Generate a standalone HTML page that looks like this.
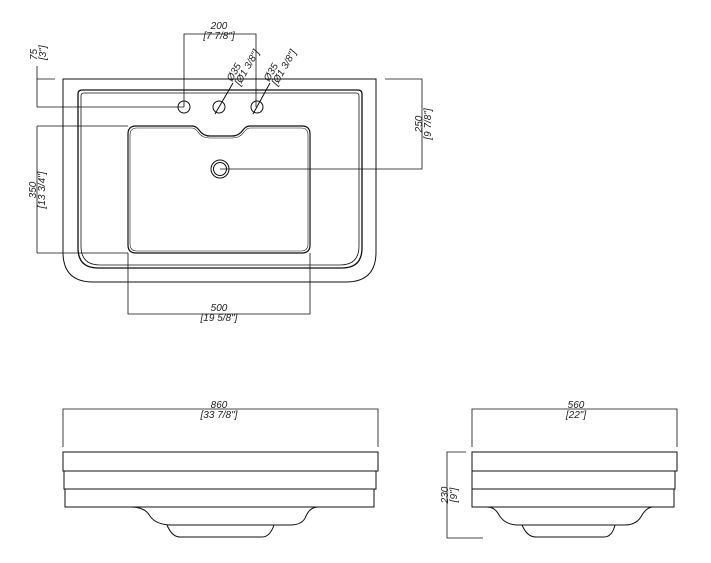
<!DOCTYPE html>
<html><head><style>
html,body{margin:0;padding:0;background:#fff;}
svg{display:block;}
text{font-family:"Liberation Sans",sans-serif;font-style:italic;font-size:10px;fill:#222;}
</style></head><body>
<svg width="711" height="563" viewBox="0 0 711 563" xmlns="http://www.w3.org/2000/svg">
<g fill="none" stroke="#111" stroke-width="1">
<!-- plan: outer -->
<path d="M63,79 H376 V252 Q376,282 346,282 H93 Q63,282 63,252 Z"/>
<!-- rim double -->
<path d="M78,94 Q78,90 82,90 H358 Q362,90 362,94 V248 Q362,268 342,268 H98 Q78,268 78,248 Z" stroke-width="1.3"/>
<path d="M81,96 Q81,93 84,93 H356 Q359,93 359,96 V246 Q359,265 340,265 H100 Q81,265 81,246 Z" stroke-width="0.8"/>
<!-- bowl -->
<path d="M136,126 H192 Q196,126 199,130 Q203,136 210,136 H232 Q239,136 243,130 Q246,126 250,126 H302 Q310,126 310,134 V245 Q310,253 302,253 H136 Q128,253 128,245 V134 Q128,126 136,126 Z" stroke-width="1.2"/>
<path d="M137,128 H192 Q195,128 198,132 Q202,138 210,138 H232 Q240,138 244,132 Q247,128 250,128 H301 Q308,128 308,135 V244 Q308,251 301,251 H137 Q130,251 130,244 V135 Q130,128 137,128 Z" stroke-width="0.6"/>
<!-- holes -->
<circle cx="184" cy="107" r="6"/>
<circle cx="219" cy="107" r="6"/>
<circle cx="257" cy="107" r="6"/>
<line x1="215" y1="114" x2="233" y2="83"/>
<line x1="253" y1="114" x2="270" y2="83"/>
<!-- drain -->
<circle cx="220" cy="169" r="9"/>
<circle cx="220" cy="169" r="6.5"/>
<!-- dims -->
<g stroke-width="0.8">
<path d="M184,107 V34 H256 V107"/>
<path d="M37,66 V107 M37,79 H55 M37,107 H184"/>
<path d="M37,126 V253 M37,126 H128 M37,253 H128"/>
<path d="M385,79 H422 V169 H220"/>
<path d="M128,253 V314 H310 V253"/>
</g>
<!-- front view -->
<path d="M63,452 H378 V471 H63 Z"/>
<path d="M64,471 V489 H376 V471"/>
<path d="M65,489 V507 H374 V489"/>
<path d="M131,507 Q145,507 150,516 Q156,525 172,525 H290 Q303,525 306,516 Q310,507 318,507"/>
<path d="M167,525 Q172,537 180,537 H262 Q270,537 274,525"/>
<path d="M63,447 V409 H378 V447" stroke-width="0.8"/>
<!-- side view -->
<path d="M472,452 H677 V471 H472 Z"/>
<path d="M472,471 V489 H675 V471"/>
<path d="M472,489 V507 H674 V489"/>
<path d="M487,507 Q495,507 499,515 Q505,525 518,525 H625 Q637,525 642,515 Q647,507 653,507"/>
<path d="M522,525 Q527,537 536,537 H604 Q612,537 615,525"/>
<path d="M472,447 V409 H677 V447" stroke-width="0.8"/>
<path d="M466,452 H447 V538 H483" stroke-width="0.8"/>
</g>
<g>
<text x="219" y="29" text-anchor="middle">200</text>
<text x="219" y="39" text-anchor="middle">[7 7/8"]</text>
<text transform="translate(37,60) rotate(-90)" text-anchor="start">75</text>
<text transform="translate(46,60) rotate(-90)" text-anchor="start">[3"]</text>
<text transform="translate(36,190) rotate(-90)" text-anchor="middle">350</text>
<text transform="translate(45,190) rotate(-90)" text-anchor="middle">[13 3/4"]</text>
<text transform="translate(422,124) rotate(-90)" text-anchor="middle">250</text>
<text transform="translate(431,124) rotate(-90)" text-anchor="middle">[9 7/8"]</text>
<text x="219" y="311" text-anchor="middle">500</text>
<text x="219" y="321" text-anchor="middle">[19 5/8"]</text>
<text transform="translate(232,82) rotate(-60)">Ø35</text>
<text transform="translate(240,86) rotate(-60)">[Ø1 3/8"]</text>
<text transform="translate(269,82) rotate(-60)">Ø35</text>
<text transform="translate(277,86) rotate(-60)">[Ø1 3/8"]</text>
<text x="219" y="408" text-anchor="middle">860</text>
<text x="219" y="418" text-anchor="middle">[33 7/8"]</text>
<text x="576" y="408" text-anchor="middle">560</text>
<text x="576" y="418" text-anchor="middle">[22"]</text>
<text transform="translate(448,495) rotate(-90)" text-anchor="middle">230</text>
<text transform="translate(457,495) rotate(-90)" text-anchor="middle">[9"]</text>
</g>
</svg>
</body></html>
